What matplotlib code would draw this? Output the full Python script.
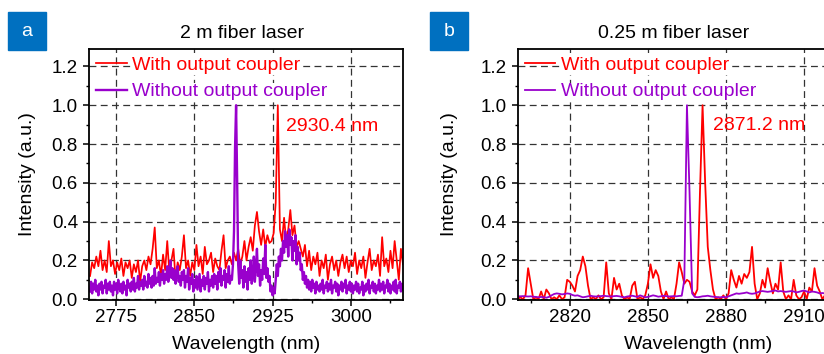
import numpy as np
import matplotlib
matplotlib.use("Agg")
import matplotlib.pyplot as plt
from matplotlib.patches import Rectangle
from matplotlib.ticker import MultipleLocator

plt.rcParams['font.family'] = ['Liberation Sans', 'DejaVu Sans']

RED = '#ff0000'
PURPLE = '#9900cc'
BLUE = '#0070c0'

# ---- panel a: 2 m fiber laser ----
wl_a_red = np.arange(2750, 3051, 2)
red_a = [0.12, 0.19, 0.16, 0.22, 0.17, 0.25, 0.15, 0.2, 0.14, 0.3,
         0.17, 0.2, 0.13, 0.19, 0.15, 0.21, 0.12, 0.19, 0.16, 0.2,
         0.11, 0.18, 0.14, 0.2, 0.09, 0.17, 0.2, 0.15, 0.22, 0.18,
         0.26, 0.37, 0.16, 0.2, 0.12, 0.23, 0.15, 0.3, 0.14, 0.2,
         0.26, 0.1, 0.19, 0.15, 0.22, 0.33, 0.16, 0.2, 0.12, 0.19,
         0.15, 0.28, 0.17, 0.22, 0.13, 0.27, 0.18, 0.2, 0.24, 0.14,
         0.21, 0.17, 0.15, 0.25, 0.33, 0.16, 0.2, 0.22, 0.18, 0.24,
         0.2, 0.26, 0.18, 0.22, 0.3, 0.2, 0.27, 0.32, 0.25, 0.38,
         0.45, 0.35, 0.28, 0.36, 0.27, 0.33, 0.29, 0.3, 0.34, 0.5,
         1.0, 0.36, 0.3, 0.42, 0.3, 0.36, 0.46, 0.33, 0.38, 0.27,
         0.3, 0.26, 0.22, 0.28, 0.17, 0.25, 0.15, 0.22, 0.18, 0.24,
         0.12, 0.2, 0.16, 0.23, 0.1, 0.18, 0.22, 0.15, 0.2, 0.12,
         0.19, 0.23, 0.16, 0.22, 0.14, 0.2, 0.17, 0.24, 0.13, 0.2,
         0.16, 0.22, 0.11, 0.19, 0.26, 0.15, 0.2, 0.17, 0.23, 0.12,
         0.32, 0.17, 0.21, 0.14, 0.25, 0.16, 0.3, 0.2, 0.1, 0.26,
         0.18]

wl_a_pur = np.arange(2750, 3051, 1)
pur_a = [0.04, 0.09, 0.03, 0.08, 0.05, 0.1, 0.04, 0.07, 0.02, 0.08,
         0.05, 0.09, 0.03, 0.07, 0.06, 0.1, 0.03, 0.08, 0.05, 0.09,
         0.04, 0.07, 0.02, 0.09, 0.05, 0.08, 0.03, 0.1, 0.06, 0.04,
         0.08, 0.03, 0.09, 0.05, 0.07, 0.02, 0.1, 0.06, 0.08, 0.04,
         0.09, 0.05, 0.11, 0.04, 0.08, 0.06, 0.12, 0.05, 0.09, 0.07,
         0.1, 0.05, 0.12, 0.07, 0.09, 0.06, 0.13, 0.08, 0.11, 0.06,
         0.12, 0.07, 0.16, 0.08, 0.11, 0.09, 0.14, 0.07, 0.13, 0.1,
         0.15, 0.08, 0.13, 0.1, 0.17, 0.09, 0.14, 0.2, 0.11, 0.16,
         0.1, 0.15, 0.08, 0.13, 0.17, 0.09, 0.12, 0.07, 0.14, 0.1,
         0.15, 0.06, 0.12, 0.09, 0.16, 0.05, 0.11, 0.08, 0.13, 0.04,
         0.1, 0.06, 0.12, 0.05, 0.09, 0.13, 0.04, 0.1, 0.07, 0.12,
         0.05, 0.11, 0.08, 0.14, 0.04, 0.1, 0.07, 0.12, 0.06, 0.13,
         0.08, 0.12, 0.05, 0.14, 0.09, 0.16, 0.07, 0.12, 0.1, 0.15,
         0.06, 0.13, 0.09, 0.17, 0.08, 0.12, 0.1, 0.18, 0.35, 0.78,
         1.0, 0.62, 0.18, 0.08, 0.2, 0.11, 0.15, 0.06, 0.17, 0.09,
         0.14, 0.05, 0.16, 0.1, 0.2, 0.08, 0.13, 0.22, 0.09, 0.17,
         0.26, 0.12, 0.18, 0.07, 0.15, 0.1, 0.21, 0.13, 0.28, 0.11,
         0.16, 0.09, 0.12, 0.04, 0.07, 0.02, 0.06, 0.03, 0.1, 0.18,
         0.12, 0.22, 0.17, 0.26, 0.2, 0.3, 0.24, 0.35, 0.27, 0.33,
         0.22, 0.36, 0.28, 0.32, 0.2, 0.3, 0.25, 0.33, 0.18, 0.27,
         0.2, 0.24, 0.15, 0.18, 0.1, 0.14, 0.08, 0.12, 0.06, 0.1,
         0.05, 0.09, 0.04, 0.1, 0.06, 0.08, 0.03, 0.09, 0.05, 0.07,
         0.04, 0.08, 0.05, 0.1, 0.03, 0.07, 0.06, 0.09, 0.04, 0.08,
         0.05, 0.1, 0.03, 0.07, 0.06, 0.09, 0.04, 0.08, 0.02, 0.07,
         0.05, 0.09, 0.04, 0.08, 0.06, 0.1, 0.03, 0.07, 0.05, 0.09,
         0.04, 0.08, 0.03, 0.07, 0.05, 0.09, 0.04, 0.08, 0.03, 0.06,
         0.05, 0.09, 0.02, 0.07, 0.04, 0.08, 0.05, 0.1, 0.03, 0.07,
         0.06, 0.09, 0.04, 0.08, 0.03, 0.07, 0.05, 0.1, 0.04, 0.08,
         0.05, 0.09, 0.03, 0.07, 0.06, 0.1, 0.04, 0.08, 0.03, 0.07,
         0.05, 0.09, 0.04, 0.1, 0.03, 0.07, 0.06, 0.09, 0.04, 0.08,
         0.05]

# ---- panel b: 0.25 m fiber laser ----
wl_b = np.arange(2800, 2921, 1)
red_b = [0.0, 0.01, 0.0, 0.02, 0.16, 0.08, 0.0, 0.01, 0.0, 0.04,
         0.0, 0.05, 0.03, 0.0, 0.01, 0.0, 0.02, 0.0, 0.01, 0.1,
         0.09, 0.07, 0.04, 0.12, 0.15, 0.22, 0.17, 0.07, 0.0, 0.01,
         0.0, 0.02, 0.0, 0.01, 0.19, 0.03, 0.0, 0.11, 0.05, 0.08,
         0.02, 0.0, 0.01, 0.0, 0.07, 0.09, 0.0, 0.01, 0.0, 0.02,
         0.08, 0.18, 0.11, 0.15, 0.12, 0.04, 0.0, 0.04, 0.0, 0.01,
         0.0, 0.08, 0.19, 0.14, 0.08, 0.1, 0.09, 0.04, 0.02, 0.05,
         0.55, 1.0, 0.6, 0.27, 0.15, 0.05, 0.0, 0.01, 0.0, 0.02,
         0.0, 0.03, 0.15, 0.1, 0.06, 0.12, 0.08, 0.13, 0.11, 0.14,
         0.27, 0.08, 0.0, 0.03, 0.1, 0.06, 0.16, 0.09, 0.03, 0.08,
         0.05, 0.19, 0.04, 0.0, 0.02, 0.0, 0.1, 0.02, 0.0, 0.01,
         0.04, 0.0, 0.06, 0.04, 0.16, 0.07, 0.04, 0.0, 0.02, 0.0,
         0.01]
pur_b = [0.015, 0.015, 0.016, 0.015, 0.014, 0.015, 0.013, 0.012, 0.01, 0.012,
         0.01, 0.008, 0.012, 0.02, 0.027, 0.03, 0.028, 0.025, 0.027, 0.03,
         0.028, 0.022, 0.018, 0.02, 0.015, 0.01, 0.012, 0.015, 0.018, 0.015,
         0.014, 0.015, 0.016, 0.018, 0.016, 0.015, 0.014, 0.016, 0.017, 0.015,
         0.012, 0.01, 0.014, 0.016, 0.018, 0.015, 0.012, 0.02, 0.015, 0.01,
         0.012, 0.016, 0.02, 0.017, 0.013, 0.015, 0.018, 0.016, 0.014, 0.015,
         0.016, 0.015, 0.017, 0.018, 0.1, 1.0, 0.55, 0.03, 0.012, 0.01,
         0.012, 0.015, 0.016, 0.018, 0.015, 0.013, 0.012, 0.01, 0.01, 0.012,
         0.01, 0.015, 0.02, 0.025, 0.03, 0.028, 0.03, 0.032, 0.035, 0.03,
         0.028, 0.03, 0.035, 0.04, 0.042, 0.04, 0.038, 0.04, 0.043, 0.045,
         0.04, 0.042, 0.04, 0.038, 0.04, 0.042, 0.04, 0.035, 0.038, 0.042,
         0.045, 0.04, 0.035, 0.04, 0.038, 0.035, 0.03, 0.032, 0.03, 0.028,
         0.03]

FS = 14

fig = plt.figure(figsize=(8.24, 3.54), dpi=100)
ax_a = fig.add_axes([89/824, 54/354, 314/824, 251/354])
ax_b = fig.add_axes([517.7/824, 54/354, 314/824, 251/354])


def style(ax, xlim, xmaj, title, tx, ylab_x, xlab_x):
    ax.set_xlim(*xlim)
    ax.set_ylim(-0.004, 1.29)
    ax.xaxis.set_major_locator(MultipleLocator(xmaj))
    ax.xaxis.set_minor_locator(MultipleLocator(xmaj / 2))
    ax.yaxis.set_major_locator(MultipleLocator(0.2))
    ax.yaxis.set_minor_locator(MultipleLocator(0.1))
    ax.yaxis.set_major_formatter(lambda v, p: f"{v:.1f}")
    ax.tick_params(which='major', direction='out', length=4, width=1.1,
                   labelsize=13.5, pad=4)
    ax.tick_params(axis='x', which='major', pad=2.5)
    ax.tick_params(which='minor', direction='out', length=2.5, width=1.0)
    ax.tick_params(top=False, right=False, which='both')
    for s in ax.spines.values():
        s.set_linewidth(1.3)
    ax.grid(True, which='major', color='#333333', linestyle=(0, (5.5, 3.5)),
            linewidth=0.9)
    ax.set_axisbelow(True)
    ax.set_ylabel('Intensity (a.u.)', fontsize=FS)
    ax.set_xlabel('Wavelength (nm)', fontsize=FS)
    ax.yaxis.set_label_coords(ylab_x, 0.5)
    ax.xaxis.set_label_coords(xlab_x, -0.145)
    ax.text(tx, 1.06, title, transform=ax.transAxes, ha='center',
            va='center', fontsize=FS)
    leg = ax.legend(loc='upper left', bbox_to_anchor=(0.008, 0.99),
                    frameon=False, fontsize=FS, handlelength=1.55,
                    handletextpad=0.3, labelspacing=0.45, borderpad=0.25,
                    borderaxespad=0, labelcolor='linecolor')
    for t in leg.get_texts():
        t.set_bbox(dict(facecolor='white', edgecolor='none', pad=0.5))


# panel a
ax_a.plot(wl_a_red, red_a, color=RED, lw=1.25, label='With output coupler')
ax_a.plot(wl_a_pur, pur_a, color=PURPLE, lw=1.7, label='Without output coupler')
style(ax_a, (2749, 3050), 75, '2 m fiber laser', 0.487, -0.17, 0.5)
ax_a.text(2938, 0.888, '2930.4 nm', color=RED, fontsize=FS, va='center')

# panel b
ax_b.plot(wl_b, red_b, color=RED, lw=1.3, label='With output coupler')
ax_b.plot(wl_b, pur_b, color=PURPLE, lw=1.3, label='Without output coupler')
style(ax_b, (2800, 2920.6), 30, '0.25 m fiber laser', 0.497, -0.19, 0.576)
ax_b.text(2875, 0.895, '2871.2 nm', color=RED, fontsize=FS, va='center')

# panel letters
for x0, letter in [(8, 'a'), (430, 'b')]:
    fig.patches.append(Rectangle((x0/824, 1 - 50/354), 37.7/824, 38/354,
                                 transform=fig.transFigure, color=BLUE))
    fig.text((x0 + 18.85)/824, 1 - 31/354, letter, color='white',
             fontsize=FS, ha='center', va='center')

fig.savefig('out.png', dpi=100)
